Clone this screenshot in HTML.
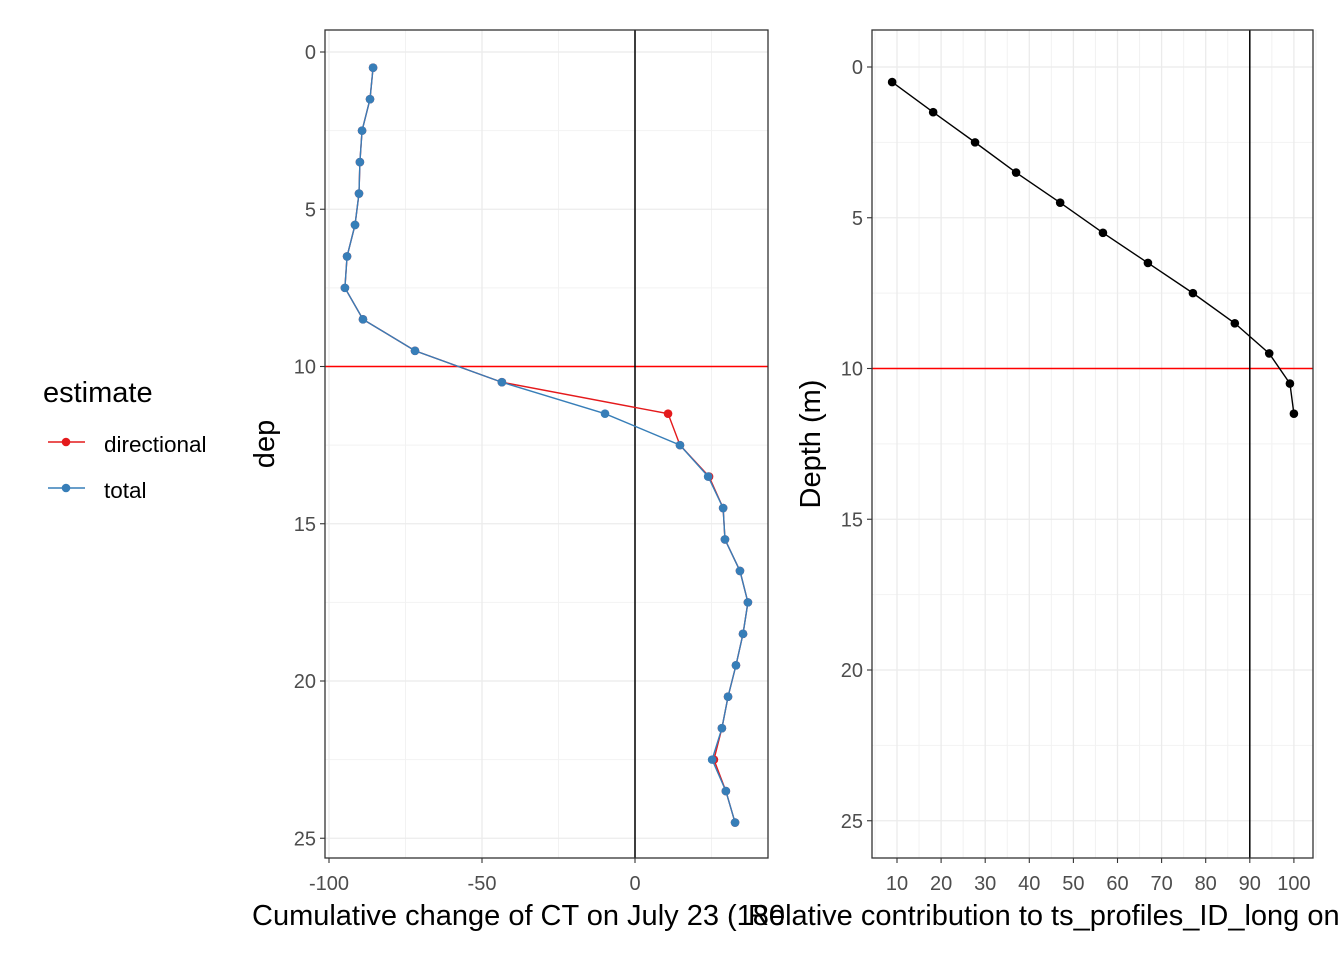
<!DOCTYPE html>
<html><head><meta charset="utf-8"><style>
html,body{margin:0;padding:0;background:#fff;overflow:hidden;}
svg text{font-family:"Liberation Sans",Arial,sans-serif;}
</style></head><body>
<svg id="c" width="1344" height="960" xmlns="http://www.w3.org/2000/svg"></svg>
<script>
const depths=[0.5,1.5,2.5,3.5,4.5,5.5,6.5,7.5,8.5,9.5,10.5,11.5,12.5,13.5,14.5,15.5,16.5,17.5,18.5,19.5,20.5,21.5,22.5,23.5,24.5];
const totalVals=[-85.6,-86.6,-89.2,-89.9,-90.2,-91.5,-94.1,-94.8,-88.9,-71.9,-43.5,-9.8,14.7,23.9,28.8,29.4,34.3,36.9,35.3,33.0,30.4,28.4,25.2,29.7,32.7];
const directionalVals=[-85.6,-86.6,-89.2,-89.9,-90.2,-91.5,-94.1,-94.8,-88.9,-71.9,-43.5,10.8,14.7,24.2,28.8,29.4,34.3,36.9,35.3,33.0,30.4,28.4,25.8,29.7,32.7];
const relDepths=[0.5,1.5,2.5,3.5,4.5,5.5,6.5,7.5,8.5,9.5,10.5,11.5];
const relVals=[8.9,18.2,27.7,37.0,47.0,56.7,66.9,77.1,86.6,94.4,99.1,100];
const leftXTicks=[-100,-50,0];
const rightXTicks=[10,20,30,40,50,60,70,80,90,100];
const yTicks=[0,5,10,15,20,25];

const svg=document.getElementById('c');
const NS='http://www.w3.org/2000/svg';
function el(tag,attrs,parent){const e=document.createElementNS(NS,tag);for(const k in attrs)e.setAttribute(k,attrs[k]);(parent||svg).appendChild(e);return e;}
function txt(s,attrs,parent){const e=el('text',attrs,parent);e.textContent=s;return e;}

const L={x0:325,x1:768,y0:30,y1:858};
const lx=v=>635+v*3.06, ly=v=>52+v*31.45;
const R={x0:872,x1:1313,y0:30,y1:858};
const rx=v=>897+(v-10)*4.41, ry=v=>67+v*30.15;

function panel(P,xs,ys,xmaj,xmin,ymaj,ymin,name){
  const g=el('g',{},svg);
  
  
  xmin.forEach(v=>el('line',{x1:xs(v),x2:xs(v),y1:P.y0,y2:P.y1,stroke:'#f2f2f2','stroke-width':1},g));
  ymin.forEach(v=>el('line',{x1:P.x0,x2:P.x1,y1:ys(v),y2:ys(v),stroke:'#f2f2f2','stroke-width':1},g));
  xmaj.forEach(v=>el('line',{x1:xs(v),x2:xs(v),y1:P.y0,y2:P.y1,stroke:'#ebebeb','stroke-width':1.3},g));
  ymaj.forEach(v=>el('line',{x1:P.x0,x2:P.x1,y1:ys(v),y2:ys(v),stroke:'#ebebeb','stroke-width':1.3},g));
  xmaj.forEach(v=>{el('line',{x1:xs(v),x2:xs(v),y1:P.y1,y2:P.y1+5,stroke:'#333','stroke-width':1.1},g);
    const t=txt(String(v),{x:xs(v),y:P.y1+32,'font-size':20,fill:'#4d4d4d','text-anchor':'middle'},g);
    });
  ymaj.forEach(v=>{el('line',{x1:P.x0-5,x2:P.x0,y1:ys(v),y2:ys(v),stroke:'#333','stroke-width':1.1},g);
    const t=txt(String(v),{x:P.x0-9,y:ys(v)+7,'font-size':20,fill:'#4d4d4d','text-anchor':'end'},g);
    });
  return g;
}
const lg=panel(L,lx,ly,leftXTicks,[-75,-25,25],yTicks,[2.5,7.5,12.5,17.5,22.5],'left-panel');
el('line',{x1:L.x0,x2:L.x1,y1:ly(10),y2:ly(10),stroke:'#ff0000','stroke-width':1.5},lg);
el('line',{x1:lx(0),x2:lx(0),y1:L.y0,y2:L.y1,stroke:'#000','stroke-width':1.5},lg);
function series(xv,yv,xs,ys,color,g,name){
  const pts=xv.map((v,i)=>xs(v)+','+ys(yv[i])).join(' ');
  const pl=el('polyline',{points:pts,fill:'none',stroke:color,'stroke-width':1.4},g);
  
  xv.forEach((v,i)=>{const c=el('circle',{cx:xs(v),cy:ys(yv[i]),r:4.3,fill:color},g);
    });
}
series(directionalVals,depths,lx,ly,'#e41a1c',lg,'directional');
series(totalVals,depths,lx,ly,'#377eb8',lg,'total');
el('rect',{x:L.x0,y:L.y0,width:L.x1-L.x0,height:L.y1-L.y0,fill:'none',stroke:'#333','stroke-width':1.3},lg);

const rmin=[];for(let v=5;v<=105;v+=5)if(v%10)rmin.push(v);
const rg=panel(R,rx,ry,rightXTicks,rmin,yTicks,[2.5,7.5,12.5,17.5,22.5],'right-panel');
el('line',{x1:R.x0,x2:R.x1,y1:ry(10),y2:ry(10),stroke:'#ff0000','stroke-width':1.5},rg);
el('line',{x1:rx(90),x2:rx(90),y1:R.y0,y2:R.y1,stroke:'#000','stroke-width':1.5},rg);
series(relVals,relDepths,rx,ry,'#000',rg,'relative');
el('rect',{x:R.x0,y:R.y0,width:R.x1-R.x0,height:R.y1-R.y0,fill:'none',stroke:'#333','stroke-width':1.3},rg);

let t=txt('dep',{transform:'translate(274,444) rotate(-90)','font-size':29,'text-anchor':'middle',fill:'#000'});

t=txt('Depth (m)',{transform:'translate(820,444) rotate(-90)','font-size':29,'text-anchor':'middle',fill:'#000'});

t=txt('Cumulative change of CT on July 23 (180',{x:252,y:925,'font-size':29,fill:'#000'});

t=txt('Relative contribution to ts_profiles_ID_long on',{x:748,y:925,'font-size':29,fill:'#000'});


const leg=el('g',{});

txt('estimate',{x:43,y:402,'font-size':29,fill:'#000'},leg);
el('line',{x1:48,x2:85,y1:442,y2:442,stroke:'#e41a1c','stroke-width':1.6},leg);
el('circle',{cx:66,cy:442,r:4.3,fill:'#e41a1c'},leg);
txt('directional',{x:104,y:452,'font-size':22.5,fill:'#000'},leg);
el('line',{x1:48,x2:85,y1:488,y2:488,stroke:'#377eb8','stroke-width':1.6},leg);
el('circle',{cx:66,cy:488,r:4.3,fill:'#377eb8'},leg);
txt('total',{x:104,y:498,'font-size':22.5,fill:'#000'},leg);
</script>
</body></html>
